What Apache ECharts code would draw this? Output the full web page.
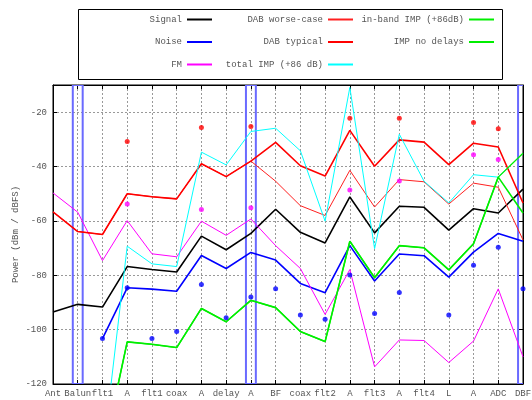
<!DOCTYPE html>
<html>
<head>
<meta charset="utf-8">
<script src="https://cdn.jsdelivr.net/npm/echarts/dist/echarts.min.js"></script>
<style>
  html, body { margin: 0; padding: 0; background: #fff; }
  #chart { width: 532px; height: 400px; }
</style>
</head>
<body>
<div id="chart"></div>
<script>
// Receiver chain stages along the x axis
const stages = ['Ant', 'Balun', 'flt1', 'A', 'flt1', 'coax', 'A', 'delay', 'A', 'BF',
                'coax', 'flt2', 'A', 'flt3', 'A', 'flt4', 'L', 'A', 'ADC', 'DBF'];

// Level at each stage (dBm / dBFS); null where a trace is not defined
const signal      = [-93.5, -90.7, -91.7, -76.8, -77.9, -78.8, -65.6, -70.6, -64.6, -55.7,
                     -64.2, -68.1, -51.2, -64.4, -54.6, -55.0, -63.4, -55.5, -57.1, -48.3];
const noise       = [null, null, -103.3, -84.6, -85.1, -85.9, -72.7, -77.5, -71.6, -74.4,
                     -83.0, -86.4, -69.1, -82.1, -72.2, -72.8, -80.7, -71.5, -64.6, -67.5];
const fm          = [-49.7, -56.8, -74.6, -59.9, -72.1, -73.2, -60.1, -65.3, -59.3, -69.1,
                     -77.5, -94.4, -77.9, -113.7, -103.8, -104.0, -112.1, -104.2, -85.0, -110.0];
const dabWorse    = [-56.7, -63.9, -65.0, -50.0, -51.1, -51.9, -39.0, -43.7, -38.0, -45.4,
                     -54.4, -58.0, -41.4, -54.9, -44.8, -45.6, -53.8, -46.1, -47.6, -67.0];
const dabTypical  = [-56.7, -63.9, -65.0, -50.0, -51.1, -51.9, -39.0, -43.7, -38.0, -31.1,
                     -39.7, -43.5, -26.7, -39.9, -30.2, -31.0, -39.3, -31.4, -32.8, -53.4];
const totalImp    = [null, null, -147.0, -69.3, -75.8, -76.8, -34.7, -39.4, -27.1, -25.9,
                     -34.2, -60.1, -10.9, -70.2, -28.1, -45.4, -53.4, -43.0, -43.9, -35.1];
const inBandImp   = [null, null, -147.0, -104.5, -105.4, -106.6, -92.2, -97.1, -89.2, -91.9,
                     -100.7, -104.4, -67.5, -80.9, -69.1, -69.9, -78.0, -68.4, -43.9, -57.1];
const impNoDelays = [null, null, -147.0, -104.5, -105.4, -106.6, -92.2, -97.1, -89.2, -91.9,
                     -100.7, -104.4, -67.5, -80.9, -69.1, -69.9, -78.0, -68.4, -43.9, -35.1];

// Single-point levels
const dabPeak   = [null, null, null, -30.8, null, null, -25.6, null, -25.3, null,
                   null, null, -22.2, null, -22.2, null, null, -23.8, -26.1, null];
const fmPeak    = [null, null, null, -53.8, null, null, -55.8, null, -55.2, null,
                   null, null, -48.6, null, -45.3, null, null, -35.7, -37.4, null];
const noiseSpot = [null, null, -103.3, -84.6, -103.3, -100.7, -83.4, -95.6, -88.0, -85.0,
                   -94.6, -96.2, -79.9, -94.1, -86.3, null, -94.6, -76.3, -69.7, -85.0];

// Stages framed by a box
const boxedStages = [1, 8, 19];

// Y axis ticks
const yMin = -120, yMax = -10, yStep = 20;

const FONT = '"Liberation Mono", "DejaVu Sans Mono", monospace';
const TXT = '#555';

function pts(arr) { return arr.map((v, i) => [i, v]); }

function lineSeries(name, arr, color, width) {
  return {
    name, type: 'line', data: pts(arr), symbol: 'none', connectNulls: false,
    lineStyle: { color, width }, itemStyle: { color }, clip: true,
    emphasis: { disabled: true }, animation: false
  };
}
function dotSeries(name, arr, color) {
  return {
    name, type: 'scatter', data: pts(arr).filter(p => p[1] !== null),
    symbol: 'circle', symbolSize: 5, itemStyle: { color },
    emphasis: { disabled: true }, animation: false, z: 3
  };
}

const legendBase = {
  orient: 'vertical', align: 'right', icon: 'rect', itemWidth: 25, itemHeight: 2,
  itemGap: 13.5, padding: 0, top: 15, selectedMode: false,
  textStyle: { fontFamily: FONT, fontSize: 9, color: TXT }
};

const chart = echarts.init(document.getElementById('chart'), null, { renderer: 'canvas' });
chart.setOption({
  animation: false,
  backgroundColor: '#fff',
  grid: { left: 53, right: 9, top: 85, bottom: 16, outerBoundsMode: 'none', containLabel: false,
          show: true, borderColor: '#000', borderWidth: 1, backgroundColor: 'transparent' },
  legend: [
    Object.assign({}, legendBase, { right: 320, data: ['Signal', 'Noise', 'FM'] }),
    Object.assign({}, legendBase, { right: 179, data: ['DAB worse-case', 'DAB typical', 'total IMP (+86 dB)'] }),
    Object.assign({}, legendBase, { right: 38, data: ['in-band IMP (+86dB)', 'IMP no delays'] })
  ],
  graphic: [{
    type: 'rect', left: 76, top: 7, shape: { width: 424, height: 70 },
    style: { fill: 'none', stroke: '#000', lineWidth: 1 }, silent: true, z: 10
  }],
  xAxis: [{
    type: 'value', min: 0, max: stages.length - 1, interval: 1, position: 'bottom',
    axisLine: { show: true, onZero: false, lineStyle: { color: '#000', width: 1 } },
    axisTick: { show: true, inside: true, length: 4, lineStyle: { color: '#000' } },
    axisLabel: { show: true, margin: 5, fontFamily: FONT, fontSize: 9, color: TXT,
                 formatter: v => stages[v] || '', hideOverlap: false },
    splitLine: { show: true, lineStyle: { color: '#999', type: [2, 2], width: 1 } }
  }, {
    type: 'value', min: 0, max: stages.length - 1, interval: 1, position: 'top',
    axisLine: { show: true, onZero: false, lineStyle: { color: '#000', width: 1 } },
    axisTick: { show: true, inside: true, length: 4, lineStyle: { color: '#000' } },
    axisLabel: { show: false }, splitLine: { show: false }
  }],
  yAxis: [{
    type: 'value', min: yMin, max: yMax, interval: yStep, position: 'left',
    name: 'Power (dBm / dBFS)', nameLocation: 'middle', nameGap: 33, nameRotate: 90,
    nameMoveOverlap: false,
    nameTextStyle: { fontFamily: FONT, fontSize: 9, color: TXT },
    axisLine: { show: true, onZero: false, lineStyle: { color: '#000', width: 1 } },
    axisTick: { show: true, inside: true, length: 4, lineStyle: { color: '#000' } },
    axisLabel: { show: true, margin: 6, fontFamily: FONT, fontSize: 9, color: TXT,
                 formatter: v => (v === yMax ? '' : String(v)) },
    splitLine: { show: true, lineStyle: { color: '#999', type: [2, 2], width: 1 } }
  }, {
    type: 'value', min: yMin, max: yMax, interval: yStep, position: 'right',
    axisLine: { show: true, onZero: false, lineStyle: { color: '#000', width: 1 } },
    axisTick: { show: true, inside: true, length: 4, lineStyle: { color: '#000' } },
    axisLabel: { show: false }, splitLine: { show: false }
  }],
  series: [
    {
      name: 'boxes', type: 'custom', clip: true, silent: true, animation: false, z: 1,
      data: boxedStages.map(s => [s]),
      renderItem: function (params, api) {
        const c = api.value(0);
        const p0 = api.coord([c - 0.2, yMax]);
        const p1 = api.coord([c + 0.2, yMin]);
        return {
          type: 'rect',
          shape: { x: p0[0], y: p0[1], width: p1[0] - p0[0], height: p1[1] - p0[1] },
          style: { fill: 'none', stroke: '#6a6aff', lineWidth: 2 }
        };
      }
    },
    lineSeries('Signal', signal, '#000000', 1.6),
    lineSeries('Noise', noise, '#0000ff', 1.6),
    lineSeries('FM', fm, '#ff00ff', 1),
    lineSeries('DAB worse-case', dabWorse, '#ff2020', 1),
    lineSeries('DAB typical', dabTypical, '#ff0000', 1.6),
    lineSeries('total IMP (+86 dB)', totalImp, '#00ffff', 1),
    lineSeries('in-band IMP (+86dB)', inBandImp, '#00ee00', 1.6),
    lineSeries('IMP no delays', impNoDelays, '#00ee00', 1.3),
    dotSeries('DAB peak', dabPeak, '#ff0000'),
    dotSeries('FM peak', fmPeak, '#ff00ff'),
    dotSeries('Noise spot', noiseSpot, '#0000ff')
  ]
});
</script>
</body>
</html>
